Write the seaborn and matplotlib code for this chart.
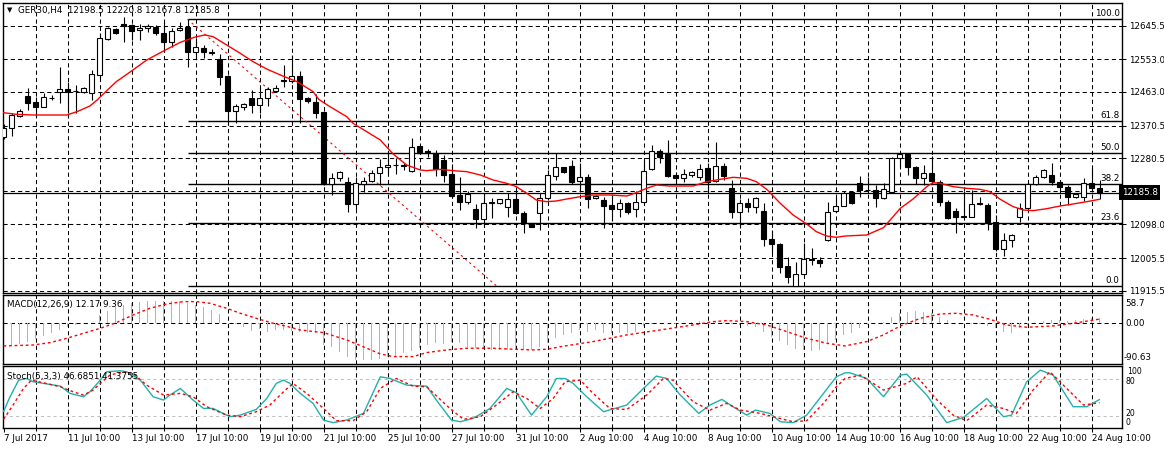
import numpy as np
import matplotlib
matplotlib.use("Agg")
import matplotlib.pyplot as plt
import seaborn as sns

# ---- GER30 H4 candles ----
opens = [
    12339.8, 12362.8, 12397.6, 12451.8, 12434.4, 12422.5, 12447.5, 12463.8, 12470.2, 12466.5,
    12461.9, 12459.2, 12509.7, 12608.9, 12635.5, 12649.3, 12647.4, 12633.7, 12638.2, 12642.8,
    12624.5, 12601.5, 12633.7, 12642.8, 12572.1, 12583.1, 12572.1, 12553.8, 12506.9, 12411.4,
    12420.6, 12445.4, 12427.0, 12445.4, 12466.5, 12495.0, 12494.1, 12506.9, 12445.4, 12434.4,
    12407.8, 12208.5, 12225.0, 12214.0, 12153.4, 12209.4, 12218.6, 12238.8, 12255.3, 12260.8,
    12260.8, 12246.1, 12314.1, 12299.4, 12295.7, 12275.5, 12237.0, 12179.1, 12160.7, 12139.6,
    12113.0, 12157.0, 12156.1, 12145.1, 12167.2, 12128.6, 12101.0, 12128.6, 12171.7, 12232.4,
    12255.3, 12259.0, 12218.6, 12227.8, 12169.9, 12165.3, 12151.6, 12139.6, 12156.1, 12139.6,
    12158.9, 12249.8, 12301.2, 12295.7, 12234.2, 12225.0, 12235.1, 12227.8, 12252.6, 12218.6,
    12259.0, 12197.5, 12133.2, 12156.1, 12145.1, 12135.0, 12057.0, 12044.1, 11983.5, 11929.3,
    11961.5, 12002.8, 12000.1, 12055.1, 12136.0, 12149.7, 12186.4, 12211.2, 12193.8, 12192.9,
    12169.9, 12186.4, 12280.1, 12292.0, 12255.3, 12225.0, 12238.8, 12215.8, 12160.7, 12136.0,
    12120.3, 12119.4, 12158.0, 12151.6, 12103.8, 12029.4, 12055.1, 12117.6, 12142.4, 12209.4,
    12227.8, 12234.2, 12215.8, 12202.1, 12172.7, 12172.7, 12213.1, 12198.5]
highs = [
    12374.7, 12404.1, 12416.0, 12473.0, 12450.0, 12461.0, 12454.6, 12532.7, 12491.3, 12482.1,
    12475.7, 12523.5, 12626.3, 12641.0, 12638.2, 12668.5, 12650.2, 12650.2, 12650.2, 12647.4,
    12659.4, 12638.2, 12656.6, 12663.1, 12610.7, 12592.3, 12580.4, 12567.5, 12508.8, 12429.8,
    12431.6, 12468.4, 12475.7, 12475.7, 12482.1, 12537.2, 12564.8, 12520.7, 12450.0, 12456.4,
    12409.6, 12240.6, 12246.1, 12227.8, 12229.6, 12229.6, 12248.0, 12277.3, 12295.7, 12280.1,
    12266.3, 12337.0, 12316.8, 12305.8, 12303.1, 12289.3, 12264.5, 12229.6, 12190.1, 12154.3,
    12183.7, 12169.9, 12169.0, 12185.5, 12192.9, 12135.9, 12102.9, 12185.5, 12248.0, 12295.7,
    12257.1, 12275.5, 12266.3, 12237.0, 12179.1, 12174.5, 12179.1, 12167.2, 12158.9, 12191.0,
    12275.5, 12316.8, 12304.9, 12330.6, 12243.4, 12249.8, 12246.1, 12264.5, 12266.3, 12324.2,
    12266.3, 12220.4, 12167.2, 12169.9, 12172.7, 12158.0, 12082.7, 12046.0, 12007.4, 11993.6,
    12047.8, 12032.2, 12009.2, 12160.7, 12174.5, 12190.1, 12191.0, 12231.4, 12229.6, 12206.6,
    12211.2, 12284.7, 12293.9, 12293.9, 12259.0, 12261.7, 12286.5, 12220.4, 12165.3, 12142.4,
    12191.0, 12192.9, 12172.7, 12156.1, 12124.0, 12073.5, 12070.7, 12156.1, 12211.2, 12234.2,
    12249.8, 12266.3, 12220.4, 12206.6, 12185.5, 12225.0, 12252.6, 12220.8]
lows = [
    12332.5, 12341.6, 12394.9, 12413.0, 12394.9, 12420.6, 12440.8, 12431.6, 12405.9, 12404.1,
    12459.2, 12440.8, 12500.5, 12606.1, 12622.6, 12601.5, 12606.1, 12606.1, 12629.1, 12619.9,
    12578.5, 12587.7, 12631.8, 12530.8, 12555.6, 12555.6, 12564.8, 12482.1, 12372.0, 12378.4,
    12413.3, 12405.9, 12404.1, 12424.3, 12463.8, 12477.5, 12486.7, 12378.4, 12431.6, 12390.3,
    12206.6, 12179.1, 12218.6, 12133.2, 12139.6, 12188.3, 12215.8, 12206.6, 12240.6, 12237.0,
    12248.0, 12243.4, 12293.9, 12284.7, 12232.4, 12215.8, 12169.9, 12137.8, 12154.3, 12087.3,
    12091.9, 12114.8, 12154.3, 12119.4, 12125.8, 12075.3, 12090.0, 12082.7, 12165.3, 12220.4,
    12238.8, 12209.4, 12188.3, 12142.4, 12168.1, 12089.1, 12108.4, 12119.4, 12126.7, 12117.6,
    12156.1, 12248.0, 12268.2, 12229.6, 12215.8, 12215.8, 12229.6, 12220.4, 12183.7, 12215.8,
    12220.4, 12114.8, 12089.1, 12133.2, 12130.4, 12038.6, 12018.4, 11963.3, 11937.6, 11929.2,
    11958.7, 11986.3, 11981.7, 12053.3, 12133.2, 12148.8, 12154.3, 12172.7, 12185.5, 12147.0,
    12167.2, 12185.5, 12257.2, 12234.2, 12209.4, 12206.6, 12211.2, 12148.8, 12112.0, 12075.3,
    12114.8, 12117.6, 12151.6, 12082.7, 12025.7, 12011.1, 12036.8, 12105.6, 12139.6, 12206.6,
    12225.0, 12206.6, 12185.5, 12151.6, 12169.9, 12163.5, 12188.3, 12167.8]
closes = [
    12362.8, 12399.5, 12410.5, 12433.5, 12422.5, 12448.2, 12446.5, 12471.1, 12462.9, 12464.7,
    12473.0, 12512.4, 12610.7, 12638.2, 12624.5, 12645.6, 12631.8, 12640.1, 12644.7, 12624.5,
    12601.5, 12631.8, 12640.1, 12572.1, 12585.9, 12574.0, 12571.2, 12505.1, 12411.4, 12424.3,
    12428.9, 12427.0, 12445.4, 12470.2, 12474.8, 12493.2, 12507.8, 12444.5, 12439.0, 12405.9,
    12208.5, 12225.0, 12243.4, 12153.4, 12211.2, 12218.6, 12240.6, 12255.3, 12261.7, 12262.7,
    12259.9, 12310.4, 12298.5, 12297.6, 12250.7, 12234.2, 12177.2, 12160.7, 12181.8, 12113.0,
    12156.1, 12158.9, 12167.2, 12167.2, 12128.6, 12101.0, 12091.9, 12171.7, 12234.2, 12255.3,
    12243.4, 12215.8, 12227.8, 12168.1, 12176.3, 12149.7, 12139.6, 12156.1, 12133.2, 12158.9,
    12246.1, 12300.3, 12284.7, 12231.4, 12225.0, 12236.9, 12242.5, 12249.8, 12215.8, 12259.0,
    12232.4, 12133.2, 12156.1, 12145.1, 12169.9, 12057.0, 12043.2, 11981.7, 11952.3, 11961.5,
    12001.9, 12001.0, 11990.8, 12133.2, 12149.7, 12185.5, 12158.0, 12192.9, 12192.0, 12169.9,
    12194.7, 12280.1, 12292.0, 12255.3, 12225.0, 12238.8, 12218.6, 12158.9, 12114.8, 12117.6,
    12118.5, 12154.3, 12153.4, 12103.8, 12029.4, 12055.1, 12068.0, 12142.4, 12209.4, 12227.8,
    12248.0, 12215.8, 12202.1, 12172.7, 12181.0, 12213.1, 12198.5, 12185.8]

# moving average (red line), sampled along the chart: bar position, price
ma_bar = [0, 1.6, 3.7, 5.8, 7.9, 9.2, 10.8, 11.7, 12.9, 14.1, 16, 17.9, 20, 22.1, 22.9, 24.1,
          25.2, 26.2, 27.9, 29.6, 31.2, 32.9, 35, 36.7, 38.7, 39.4, 40.8, 42.9, 43.7, 45.4,
          47.1, 48.7, 50.4, 52.1, 52.9, 54.6, 56.2, 57.9, 59.6, 61.2, 62.9, 64.1, 65.4, 66.6,
          67.9, 69.1, 70.2, 72.1, 73.7, 75.8, 77.9, 79.1, 80.4, 81.6, 83.3, 86.2, 87.9, 89.6,
          91.2, 92.9, 94.1, 95.4, 97.1, 98.7, 100.4, 101.6, 102.9, 104.1, 105.2, 107.9, 110,
          111.2, 112.1, 113.7, 115.4, 116.2, 117.1, 118.7, 120.4, 122.1, 123.3, 124.6, 126.2,
          127.5, 128.7, 130.4, 132.1, 133.7, 135.4, 137]
ma_val = [12405.9, 12401.3, 12399.5, 12399.5, 12399.5, 12408.7, 12424.3, 12440.8, 12466.5,
          12491.3, 12520.7, 12551.0, 12575.8, 12599.7, 12606.1, 12615.3, 12619.9, 12615.3,
          12592.3, 12569.4, 12546.4, 12526.2, 12506.0, 12491.3, 12463.8, 12442.7, 12422.5,
          12394.9, 12376.5, 12353.6, 12330.6, 12292.0, 12261.7, 12248.0, 12246.1, 12249.8,
          12246.1, 12243.4, 12234.2, 12220.4, 12211.2, 12202.1, 12183.7, 12165.3, 12160.7,
          12162.6, 12167.2, 12174.5, 12179.1, 12179.1, 12176.3, 12185.5, 12197.5, 12206.6,
          12203.9, 12203.9, 12215.8, 12222.3, 12227.8, 12225.0, 12215.8, 12194.7, 12156.1,
          12124.0, 12099.2, 12078.1, 12066.1, 12062.5, 12066.1, 12068.9, 12089.1, 12119.4,
          12142.4, 12168.1, 12202.1, 12213.1, 12211.2, 12202.1, 12197.5, 12194.7, 12188.3,
          12167.2, 12147.0, 12137.8, 12135.9, 12141.4, 12148.8, 12154.3, 12160.7, 12167.2]

# fibonacci retracement
fib_anchor_bar = [23, 61.6]
fib_high, fib_low = 12663.1, 11929.2
fib_ratios = [0.0, 0.236, 0.382, 0.5, 0.618, 1.0]
fib_labels = ["0.0", "23.6", "38.2", "50.0", "61.8", "100.0"]

# MACD(12,26,9) main values per bar
macd_main = [
    -48.8, -48.8, -46.5, -41.3, -35.3, -27.8, -22.5, -15.0, -7.5, -3.8,
    -2.3, 0.5, 18.8, 28.5, 36.0, 41.3, 46.5, 48.8, 51.0, 51.0,
    50.3, 51.0, 50.3, 46.5, 41.3, 36.0, 30.0, 21.0, 1.5, -2.3,
    -7.5, -16.5, -13.5, -20.3, -15.0, -15.5, -17.0, -20.0, -21.0, -22.0,
    -48.0, -54.0, -63.8, -76.0, -82.6, -82.6, -82.0, -80.0, -77.0, -73.6,
    -67.6, -61.4, -56.0, -49.0, -45.0, -46.5, -41.3, -45.0, -52.6, -56.0,
    -58.5, -60.0, -60.0, -60.0, -58.5, -60.0, -60.0, -54.0, -45.0, -34.0,
    -27.0, -22.5, -15.0, -19.0, -15.0, -21.0, -22.5, -22.5, -22.5, -19.0,
    -6.0, -1.5, 1.5, -1.5, -1.5, 1.5, 3.7, 6.0, 3.7, 6.0,
    3.7, -0.5, -3.8, -6.0, -7.5, -19.0, -30.0, -39.0, -49.0, -58.5,
    -60.0, -61.4, -60.0, -46.5, -37.5, -26.0, -21.0, -11.0, -3.8, -1.5,
    3.7, 15.0, 22.5, 26.2, 28.5, 26.0, 22.5, 15.0, 7.5, 1.5,
    -1.5, -0.5, -1.5, -6.0, -11.0, -19.0, -21.0, -11.0, -4.0, 1.5,
    6.0, 7.5, 7.5, 6.0, 7.5, 9.0, 11.0, 12.17]
sig_bar = [0, 3.7, 5.8, 7.9, 10, 12.1, 14.1, 16.2, 18.3, 20.4, 22.5, 24.1, 25.8, 27.9, 29.6,
           31.6, 33.7, 35.2, 37.1, 40, 42.9, 45.4, 47.1, 48.7, 51.2, 52.9, 55.4, 57.9, 61.2,
           63.7, 66.2, 67.9, 70.2, 73.7, 77.9, 82.1, 86.2, 88.7, 90.4, 92.9, 95.4, 97.9,
           100.4, 102.9, 105.2, 107.9, 110, 112.1, 114.6, 117.1, 119.1, 121.2, 123.3, 125.4,
           127.9, 131.2, 133.7, 137]
sig_val = [-51, -48.9, -43.6, -33.9, -22.5, -11.3, 1.4, 18.7, 33.8, 43.5, 48.8, 48.8, 45.0,
           33.8, 22.5, 11.2, 0.0, -6.0, -15.1, -21.0, -37.5, -56.2, -69.0, -75.0, -75.0,
           -66.0, -60.0, -56.2, -56.2, -58.5, -60.0, -58.5, -51.0, -41.2, -26.2, -15.0, -3.8,
           3.7, 6.0, 3.7, -3.8, -18.8, -33.9, -45.0, -51.0, -41.2, -26.2, -6.0, 11.2, 21.0,
           22.5, 18.7, 9.0, -3.8, -9.0, -6.0, 0.0, 9.36]

# Stochastic(5,3,3)
k_bar = [0, 0.8, 1.9, 2.9, 3.7, 5, 7.1, 8.3, 10, 10.8, 12.1, 12.9, 14.6, 15.4, 17.1, 18.7, 20,
         20.8, 22.1, 23.7, 25, 26.2, 28.3, 29.6, 31.6, 32.9, 34.1, 35, 35.8, 37.1, 38.7, 40,
         41.2, 42.9, 45, 47.1, 48.3, 50.4, 52.9, 54.1, 56, 57.1, 58.7, 60.8, 62.9, 64.1, 66,
         67.9, 69.1, 70.2, 71.2, 72.9, 75, 77.9, 80, 81.6, 82.9, 84.6, 86.9, 88.3, 89.8, 91.2,
         92.9, 94, 95.8, 97.1, 98.7, 100.4, 102.5, 104.1, 105.2, 105.8, 107.9, 110, 112.1,
         112.9, 115.4, 117.9, 120, 122.9, 125, 126, 127.9, 129.6, 131.2, 133.7, 135.4, 137]
k_val = [26.6, 51, 78.7, 81.4, 76, 73.3, 68.9, 56.8, 51.3, 59.5, 78.7, 92.5, 94.1, 92.5, 78.7,
         51.3, 45.8, 54, 65, 45.8, 32, 32, 18.3, 21, 30.4, 48.4, 73.3, 78.7, 73.3, 56.8, 40.3,
         12.8, 8.5, 12.8, 23.8, 84.2, 81.4, 70.4, 68.7, 45.8, 12.8, 10.1, 15.6, 31.9, 65,
         57.9, 21, 51.3, 81.4, 81.4, 73.3, 51.3, 26.6, 37.6, 65, 85.4, 81.4, 54, 23.8, 37.6,
         46.9, 34.8, 21, 29.3, 23.8, 10.1, 8.5, 21, 56.8, 84.2, 90.8, 90.8, 81.4, 51.3, 86.9,
         88.6, 54, 8.5, 17.2, 48.4, 18.3, 21, 76, 95.2, 86.9, 34.8, 34.8, 46.69]
d_bar = [0, 1.2, 2.5, 3.5, 5, 7.1, 8.7, 10, 11.2, 12.1, 13.3, 15, 16.2, 17.9, 20, 22.1, 23.7,
         25.4, 27.9, 29.6, 31.6, 33.3, 35.2, 36.2, 37.9, 40, 41.6, 43.7, 45.4, 47.1, 49.1,
         51.2, 52.9, 55.8, 57.5, 59.6, 61.6, 63.7, 65.4, 67.1, 68.7, 70.2, 72.1, 73.7, 75.8,
         77.9, 80.4, 82.5, 83.7, 86.2, 88.3, 90.4, 92.1, 94.6, 96.2, 98.7, 100.4, 102.5,
         104.1, 105.2, 107.1, 110, 112.9, 114.2, 116.7, 118.7, 120.4, 122.9, 125, 126.6,
         128.7, 130.8, 132.9, 135, 137]
d_val = [14, 37.6, 65, 78.7, 74.3, 67.7, 59.5, 54, 62.3, 73.3, 87, 92.5, 89.7, 70.4, 54, 56.8,
         51.3, 34.8, 21, 18.3, 26.6, 37.6, 62, 73, 56.8, 31.9, 11.8, 11.8, 26.6, 65, 81.4,
         68.7, 67.7, 31.9, 14, 18.3, 37.6, 59.5, 48.4, 31.9, 48.4, 76, 78.7, 56.8, 31.9, 30.2,
         54, 81.4, 78.7, 42.9, 29.3, 40.3, 29.3, 23.8, 18.3, 10.1, 11.8, 40.3, 67.7, 81.4, 87,
         62.3, 73.3, 84.2, 45.8, 21, 11.8, 37.6, 31.9, 23.8, 62.3, 92.5, 65, 37.6, 41.38]

# axis texts
price_ticks = [12645.5, 12553.0, 12463.0, 12370.5, 12280.5, 12189.0, 12098.0, 12005.5, 11915.5]
price_labels = ["12645.5", "12553.0", "12463.0", "12370.5", "12280.5", "", "12098.0", "12005.5", "11915.5"]
date_labels = ["7 Jul 2017", "11 Jul 10:00", "13 Jul 10:00", "17 Jul 10:00", "19 Jul 10:00",
               "21 Jul 10:00", "25 Jul 10:00", "27 Jul 10:00", "31 Jul 10:00", "2 Aug 10:00",
               "4 Aug 10:00", "8 Aug 10:00", "10 Aug 10:00", "14 Aug 10:00", "16 Aug 10:00",
               "18 Aug 10:00", "22 Aug 10:00", "24 Aug 10:00"]
bid = 12185.8

sns.set_theme(style="white")
plt.rcParams['font.family'] = ['DejaVu Sans']
FS = 6.3

W, H = 1164, 449
fig = plt.figure(figsize=(W / 100, H / 100), dpi=100)
fig.patch.set_facecolor('white')


def box(x0, y0, x1, y1):
    return [x0 / W, 1 - y1 / H, (x1 - x0) / W, (y1 - y0) / H]


ax = fig.add_axes(box(2.7, 2.7, 1121.7, 292.7))
ax_macd = fig.add_axes(box(2.7, 295, 1121.7, 364))
ax_sto = fig.add_axes(box(2.7, 366, 1121.7, 427.7))

n = len(opens)
bars = np.arange(n)
o, h, l, c = map(np.array, (opens, highs, lows, closes))
xmax = 139.775
grid_bars = np.arange(4, n, 4)
dash = (0, (4, 3))

for a in (ax, ax_macd, ax_sto):
    a.set_facecolor('white')
    a.set_xlim(-0.1, xmax)
    for s in a.spines.values():
        s.set_color('black')
        s.set_linewidth(1)
    for gx in grid_bars:
        a.axvline(gx, color='black', lw=0.75, ls=dash, zorder=0.5)
    a.tick_params(axis='x', bottom=False, labelbottom=False)

# ---- main panel ----
ax.set_ylim(11909.9, 12708.9)
for p in price_ticks:
    ax.axhline(p, color='black', lw=0.75, ls=dash, zorder=0.5)
ax.yaxis.tick_right()
ax.set_yticks(price_ticks, labels=price_labels)
ax.tick_params(axis='y', length=3, width=0.75, color='black', pad=2, labelsize=FS, labelcolor='black')

fib_levels = [fib_low + r * (fib_high - fib_low) for r in fib_ratios]
ax.hlines(fib_levels, fib_anchor_bar[0], xmax, color='black', lw=1, zorder=1)
for lv, lab in zip(fib_levels, fib_labels):
    ax.annotate(lab, xy=(1, lv), xycoords=('axes fraction', 'data'), xytext=(-2, 1),
                textcoords='offset pixels', ha='right', va='bottom', fontsize=FS, color='black')
ax.plot(fib_anchor_bar, [fib_high, fib_low], color='red', lw=0.8, ls=(0, (2, 3)), zorder=1.5)

ax.axhline(bid, color='black', lw=0.9, zorder=1)

ax.vlines(bars, l, h, color='black', lw=0.8, zorder=2)
body_low = np.minimum(o, c)
body_h = np.abs(c - o)
fills = np.where(c >= o, 'white', 'black')
ax.bar(bars, body_h, bottom=body_low, width=0.62, color=fills, edgecolor='black', linewidth=0.8, zorder=3)

sns.lineplot(x=ma_bar, y=ma_val, ax=ax, color='red', lw=1, zorder=4)

ax.text(1.0, bid, "12185.8", transform=ax.get_yaxis_transform(), ha='left', va='center',
        fontsize=FS, color='white', clip_on=False,
        bbox=dict(boxstyle='square,pad=0.3', facecolor='black', edgecolor='none'))

# ---- MACD panel ----
ax_macd.set_ylim(-91.7, 63.7)
ax_macd.set_yticks([])
ax_macd.axhline(0, color='black', lw=0.75, ls=dash, zorder=0.5)
ax_macd.bar(bars, macd_main, width=0.2, color='#b4b4b4', linewidth=0, zorder=2)
sns.lineplot(x=sig_bar, y=sig_val, ax=ax_macd, color='red', lw=1, linestyle=(0, (2, 2)), zorder=3)

# ---- Stochastic panel ----
ax_sto.set_ylim(0.2, 102)
ax_sto.set_yticks([])
for lv in (80, 20):
    ax_sto.axhline(lv, color='#c0c0c0', lw=0.75, ls=(0, (3, 3)), zorder=0.6)
sns.lineplot(x=k_bar, y=k_val, ax=ax_sto, color='#20B2AA', lw=1, zorder=3)
sns.lineplot(x=d_bar, y=d_val, ax=ax_sto, color='red', lw=1, linestyle=(0, (2, 2)), zorder=3)

ax_sto.set_xticks(np.arange(0, n, 8), labels=date_labels, ha='left')
ax_sto.set_xticks(grid_bars, minor=True)
ax_sto.tick_params(axis='x', which='both', bottom=True, labelbottom=True, length=3,
                   width=0.75, color='black', pad=1.5, labelsize=FS, labelcolor='black')
ax_sto.tick_params(axis='x', which='minor', length=2)

for a in (ax, ax_macd, ax_sto):
    a.set_xlabel('')
    a.set_ylabel('')


def px_text(x, y, s, **kw):
    fig.text(x / W, 1 - y / H, s, fontsize=kw.pop('fontsize', FS), color='black', va='center', **kw)


px_text(7, 10.5, "\u25bc", fontsize=5)
px_text(18, 10.5, "GER30,H4  12198.5 12220.8 12167.8 12185.8")
px_text(7, 305, "MACD(12,26,9) 12.17 9.36")
px_text(7, 376, "Stoch(5,3,3) 46.6851 41.3755")

px_text(1125, 303, "58.7")
px_text(1125, 323, "0.00")
px_text(1124, 357.5, "-90.63")
px_text(1127, 371.5, "100", fontsize=5.6)
px_text(1125, 381.5, "80", fontsize=5.6)
px_text(1125, 413.5, "20", fontsize=5.6)
px_text(1125, 422.5, "0", fontsize=5.6)

fig.savefig("out.png", dpi=100, facecolor='white')
